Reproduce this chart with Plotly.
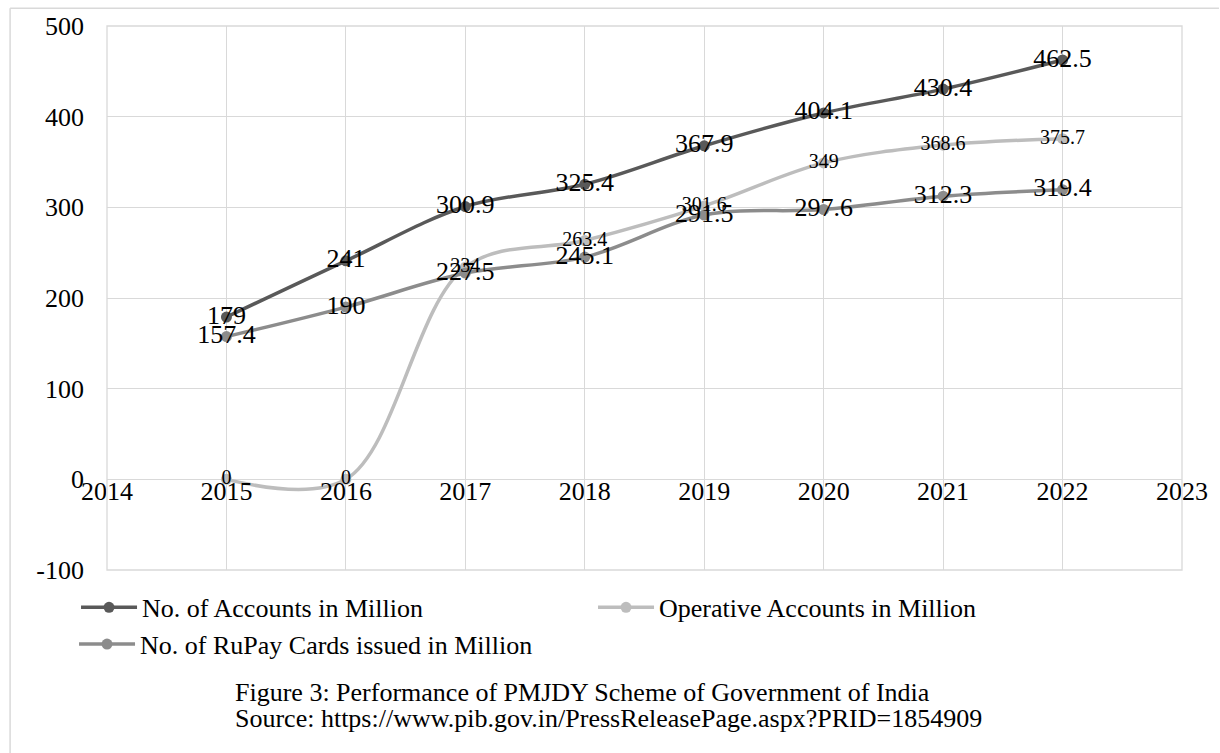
import plotly.graph_objects as go

# PMJDY scheme figures (in million), year-wise
years = [2015, 2016, 2017, 2018, 2019, 2020, 2021, 2022]
accounts = [179, 241, 300.9, 325.4, 367.9, 404.1, 430.4, 462.5]
operative = [0, 0, 234, 263.4, 301.6, 349, 368.6, 375.7]
rupay = [157.4, 190, 227.5, 245.1, 291.5, 297.6, 312.3, 319.4]

x_ticks = list(range(2014, 2024))
y_ticks = list(range(-100, 501, 100))

FONT = "Liberation Serif, Times New Roman, serif"
C_ACC = "#595959"
C_OPR = "#bdbdbd"
C_RUP = "#8c8c8c"

W, H = 1220, 753
L, R, T, B = 107, 37, 22, 183
PW, PH = W - L - R, H - T - B


def px_x(p):
    return (p - L) / PW


def px_y(q):
    return (H - B - q) / PH


series = [
    ("No. of Accounts in Million", accounts, C_ACC, 26, "legend"),
    ("Operative Accounts in Million", operative, C_OPR, 20, "legend"),
    ("No. of RuPay Cards issued in Million", rupay, C_RUP, 26, "legend2"),
]

fig = go.Figure()

# smoothed lines with markers
for name, vals, col, _, lg in series:
    fig.add_trace(go.Scatter(
        x=years, y=vals, name=name, mode="lines+markers",
        line=dict(color=col, width=3.5, shape="spline", smoothing=1),
        marker=dict(color=col, size=11),
        legend=lg,
    ))

# data labels drawn on top of all lines
for name, vals, col, fs, _ in series:
    fig.add_trace(go.Scatter(
        x=years, y=vals, mode="text", showlegend=False,
        text=[f"{v:g}" for v in vals], textposition="middle center",
        textfont=dict(family=FONT, size=fs, color="#000000"),
        hoverinfo="skip",
    ))

grid = "#d9d9d9"
fig.update_xaxes(
    range=[2014, 2023], tickvals=x_ticks, ticktext=[str(t) for t in x_ticks],
    showgrid=True, gridcolor=grid, gridwidth=1.3, zeroline=False,
    anchor="free", position=100 / 600, showline=False, ticks="",
    ticklabelstandoff=-6,
    tickfont=dict(family=FONT, size=26, color="#000000"),
)
fig.update_yaxes(
    range=[-100, 500], tickvals=y_ticks, ticktext=[str(t) for t in y_ticks],
    showgrid=True, gridcolor=grid, gridwidth=1.3, zeroline=True,
    zerolinecolor=grid, zerolinewidth=1.3, ticks="",
    ticklabelstandoff=22,
    tickfont=dict(family=FONT, size=26, color="#000000"),
)

# plot-area frame and outer border lines
shapes = [
    dict(type="rect", xref="paper", yref="paper", x0=0, x1=1, y0=0, y1=1,
         line=dict(color=grid, width=1.3)),
    dict(type="line", xref="paper", yref="paper", x0=px_x(10), x1=px_x(W),
         y0=px_y(4), y1=px_y(4), line=dict(color=grid, width=1.5)),
    dict(type="line", xref="paper", yref="paper", x0=px_x(10), x1=px_x(10),
         y0=px_y(4), y1=px_y(H + 5), line=dict(color=grid, width=1.5)),
]

cap_font = dict(family=FONT, size=26, color="#000000")
annotations = [
    dict(text="Figure 3: Performance of PMJDY Scheme of Government of India",
         xref="paper", yref="paper", x=px_x(233), y=px_y(693),
         xanchor="left", yanchor="middle", showarrow=False, font=cap_font),
    dict(text="Source: https://www.pib.gov.in/PressReleasePage.aspx?PRID=1854909",
         xref="paper", yref="paper", x=px_x(233), y=px_y(720),
         xanchor="left", yanchor="middle", showarrow=False, font=cap_font),
]

legend_font = dict(family=FONT, size=26, color="#000000")
fig.update_layout(
    width=W, height=H,
    margin=dict(l=L, r=R, t=T, b=B),
    paper_bgcolor="#ffffff", plot_bgcolor="#ffffff",
    showlegend=True,
    legend=dict(orientation="h", x=px_x(76), y=px_y(584), xanchor="left",
                yanchor="top", font=legend_font, entrywidth=446,
                entrywidthmode="pixels", itemwidth=56,
                bgcolor="rgba(0,0,0,0)"),
    legend2=dict(orientation="h", x=px_x(74), y=px_y(621), xanchor="left",
                 yanchor="top", font=legend_font, itemwidth=56,
                 bgcolor="rgba(0,0,0,0)"),
    shapes=shapes, annotations=annotations,
)

fig.write_html("out.html")
